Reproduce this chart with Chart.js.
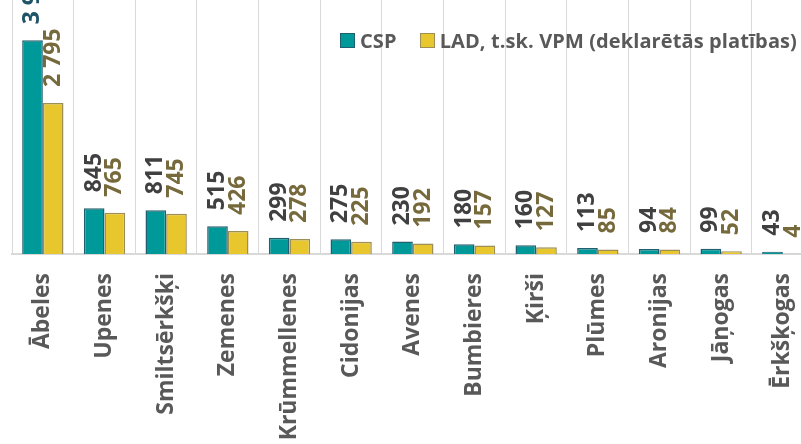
<!DOCTYPE html>
<html>
<head>
<meta charset="utf-8">
<script src="https://cdn.jsdelivr.net/npm/chart.js@4.4.0/dist/chart.umd.min.js"></script>
<style>
  html, body { margin: 0; padding: 0; background: #fff; overflow: hidden; width: 801px; height: 444px; }
  #wrap { position: relative; width: 801px; height: 444px; overflow: hidden; }
  #chart { position: absolute; left: 0; top: 0; }
  .legend { position: absolute; top: 27px; left: 340px; display: flex; align-items: center;
            font: bold 20px "Open Sans", sans-serif; color: #595959; white-space: nowrap; letter-spacing: 0.1px; }
  .legend span.box { display: inline-block; width: 13px; height: 13px; margin-right: 5px; }
  .legend .item { display: flex; align-items: center; margin-right: 23px; }
</style>
</head>
<body>
<div id="wrap">
  <canvas id="chart" width="830" height="444"></canvas>
  <div class="legend">
    <div class="item"><span class="box" style="background:#009999;border:1px solid #215F6E"></span>CSP</div>
    <div class="item"><span class="box" style="background:#E8C62E;border:1px solid #9C8E55"></span>LAD, t.sk. VPM (deklarētās platības)</div>
  </div>
</div>
<script>
const categories = ['Ābeles', 'Upenes', 'Smiltsērkšķi', 'Zemenes', 'Krūmmellenes', 'Cidonijas',
  'Avenes', 'Bumbieres', 'Ķirši', 'Plūmes', 'Aronijas', 'Jāņogas', 'Ērkšķogas'];
const cspValues = [3955, 845, 811, 515, 299, 275, 230, 180, 160, 113, 94, 99, 43];
const ladValues = [2795, 765, 745, 426, 278, 225, 192, 157, 127, 85, 84, 52, 4];

const fmt = (v) => String(v).replace(/\B(?=(\d{3})+(?!\d))/g, ' ');

// value labels drawn vertically above each bar
const barLabels = {
  id: 'barLabels',
  afterDatasetsDraw(chart) {
    const ctx = chart.ctx;
    chart.data.datasets.forEach((ds, i) => {
      const meta = chart.getDatasetMeta(i);
      meta.data.forEach((bar, j) => {
        ctx.save();
        ctx.translate(bar.x, bar.y - 16);
        ctx.rotate(-Math.PI / 2);
        ctx.font = 'bold 23px "Open Sans", sans-serif';
        ctx.textAlign = 'left';
        ctx.textBaseline = 'middle';
        ctx.fillStyle = (i === 0 && j === 0) ? '#1F5368' : ds.labelColor;
        ctx.fillText(fmt(ds.data[j]), 0, 0);
        ctx.restore();
      });
    });
  }
};

new Chart(document.getElementById('chart'), {
  type: 'bar',
  data: {
    labels: categories,
    datasets: [
      {
        label: 'CSP',
        data: cspValues,
        backgroundColor: '#009999',
        borderColor: '#215F6E',
        borderWidth: 1.5,
        labelColor: '#404040',
        categoryPercentage: 0.67,
        barPercentage: 1.0
      },
      {
        label: 'LAD, t.sk. VPM (deklarētās platības)',
        data: ladValues,
        backgroundColor: '#E8C62E',
        borderColor: '#9C8E55',
        borderWidth: 1.5,
        labelColor: '#766A3C',
        categoryPercentage: 0.67,
        barPercentage: 1.0
      }
    ]
  },
  options: {
    responsive: false,
    animation: false,
    devicePixelRatio: 1,
    layout: { padding: { left: 12, right: 15, top: 0, bottom: 0 } },
    plugins: {
      legend: { display: false },
      tooltip: { enabled: false }
    },
    scales: {
      x: {
        offset: true,
        grid: { color: '#D9D9D9', lineWidth: 1, drawTicks: false, offset: true },
        border: { color: '#D9D9D9', width: 2 },
        ticks: {
          autoSkip: false,
          minRotation: 90,
          maxRotation: 90,
          padding: 19,
          color: '#595959',
          font: { family: 'Open Sans', weight: 'bold', size: 23 }
        },
        afterFit(scale) { scale.height = 190; }
      },
      y: {
        display: false,
        min: 0,
        max: 4700
      }
    }
  },
  plugins: [barLabels]
});
</script>
</body>
</html>
